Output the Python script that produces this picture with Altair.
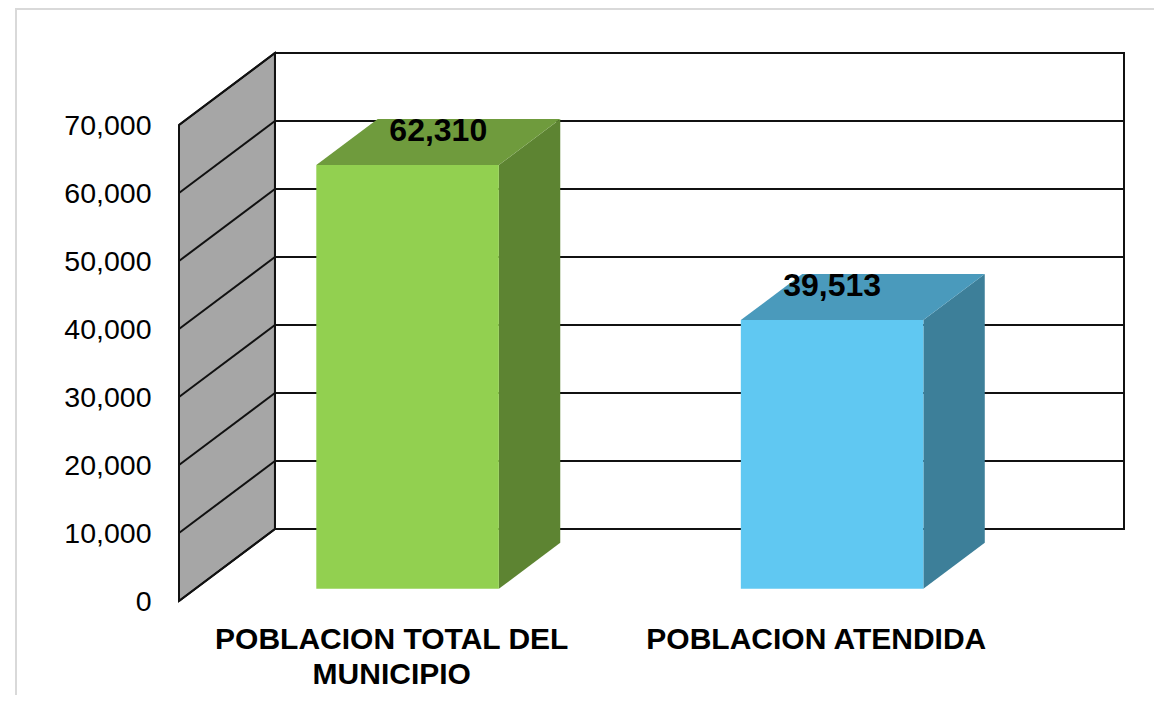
import altair as alt
import pandas as pd

# ---------------- data ----------------
CATEGORIES = ["POBLACION TOTAL DEL MUNICIPIO", "POBLACION ATENDIDA"]
CATEGORY_LINES = [["POBLACION TOTAL DEL", "MUNICIPIO"], ["POBLACION ATENDIDA"]]
VALUES = [62310, 39513]
Y_TICKS = [0, 10000, 20000, 30000, 40000, 50000, 60000, 70000]

# ---------------- style ----------------
FRONT_COLORS = ["#92D050", "#60C8F2"]
TOP_COLORS = ["#6F9B3D", "#4A9ABC"]
SIDE_COLORS = ["#5D8432", "#3D7F99"]
LABEL_DEPTH = [0.49, 0.17]   # where the value label sits along the bar depth
FONT = "Liberation Sans"
LINE = "#111111"

# 3-D geometry (in data units)
N = len(CATEGORIES)
Y_MAX = Y_TICKS[-1]
DEPTH_X = 0.226      # category units
DEPTH_Y = 10590      # value units
BAR_W = 0.43
D0, D1 = 0.17, 0.81  # bar front / back depth fractions

X_MAX = N + DEPTH_X
Y_TOP = Y_MAX + DEPTH_Y

xscale = alt.Scale(domain=[0, X_MAX], nice=False, zero=False)
yscale = alt.Scale(domain=[0, Y_TOP], nice=False, zero=False)

label_expr = " : ".join(
    [f"datum.value < {i + 1} ? {lines!r}" for i, lines in enumerate(CATEGORY_LINES[:-1])]
    + [repr(CATEGORY_LINES[-1])]
)
xaxis = alt.Axis(
    values=[i + 0.5 for i in range(N)], labelExpr=label_expr, title=None,
    ticks=False, domain=False, grid=False, labelFont=FONT, labelFontSize=30,
    labelFontWeight="bold", labelColor="#000000", labelPadding=23,
    labelLineHeight=35, labelBaseline="top", labelAlign="center", labelLimit=0,
)
yaxis = alt.Axis(
    values=Y_TICKS, labelExpr="format(datum.value, ',')", title=None, ticks=False,
    domain=False, grid=False, labelFont=FONT, labelFontSize=28.5, labelColor="#000000",
    labelPadding=28, labelBaseline="middle", labelLimit=0,
)


def X(f):
    return alt.X(f"{f}:Q", scale=xscale, axis=xaxis)


def Y(f):
    return alt.Y(f"{f}:Q", scale=yscale, axis=yaxis)


# back wall
back_df = pd.DataFrame({"x": [DEPTH_X], "x2": [N + DEPTH_X], "y": [DEPTH_Y], "y2": [Y_TOP]})
back = alt.Chart(back_df).mark_rect(fill="white", stroke=LINE, strokeWidth=2).encode(
    x=X("x"), x2="x2", y=Y("y"), y2="y2")

grid_df = pd.DataFrame({"x": [DEPTH_X] * len(Y_TICKS), "x2": [N + DEPTH_X] * len(Y_TICKS),
                        "y": [v + DEPTH_Y for v in Y_TICKS]})
grid = alt.Chart(grid_df).mark_rule(color=LINE, strokeWidth=2).encode(
    x=X("x"), x2="x2", y=Y("y"))

# side wall
side_df = pd.DataFrame({"x": [0, DEPTH_X], "y": [0, DEPTH_Y], "y2": [Y_MAX, Y_TOP]})
side = alt.Chart(side_df).mark_area(orient="vertical", fill="#A6A6A6", stroke=LINE,
                                    strokeWidth=2).encode(x=X("x"), y=Y("y"), y2="y2")

diag_df = pd.DataFrame({"x": [0] * len(Y_TICKS), "x2": [DEPTH_X] * len(Y_TICKS),
                        "y": Y_TICKS, "y2": [v + DEPTH_Y for v in Y_TICKS]})
diag = alt.Chart(diag_df).mark_rule(color=LINE, strokeWidth=2).encode(
    x=X("x"), x2="x2", y=Y("y"), y2="y2")

# bars
front_rows, side_rows, top_rows, label_rows = [], [], [], []
for i, (cat, v) in enumerate(zip(CATEGORIES, VALUES)):
    c = i + 0.5
    fl = c + D0 * DEPTH_X - BAR_W / 2
    fr = fl + BAR_W
    sx = (D1 - D0) * DEPTH_X
    front_rows.append({"cat": cat, "x": fl, "x2": fr, "y": D0 * DEPTH_Y,
                       "y2": v + D0 * DEPTH_Y, "color": FRONT_COLORS[i]})
    side_rows += [
        {"face": i, "x": fr, "y": D0 * DEPTH_Y, "y2": v + D0 * DEPTH_Y, "color": SIDE_COLORS[i]},
        {"face": i, "x": fr + sx, "y": D1 * DEPTH_Y, "y2": v + D1 * DEPTH_Y, "color": SIDE_COLORS[i]},
    ]
    top_rows += [
        {"face": i, "y": v + D0 * DEPTH_Y, "x": fl, "x2": fr, "color": TOP_COLORS[i]},
        {"face": i, "y": v + D1 * DEPTH_Y, "x": fl + sx, "x2": fr + sx, "color": TOP_COLORS[i]},
    ]
    label_rows.append({"x": c + LABEL_DEPTH[i] * DEPTH_X,
                       "y": v + (D0 + D1) / 2 * DEPTH_Y, "text": f"{v:,}"})

bar_side = alt.Chart(pd.DataFrame(side_rows)).mark_area(orient="vertical").encode(
    x=X("x"), y=Y("y"), y2="y2", fill=alt.Fill("color:N", scale=None), detail="face:N")
bar_top = alt.Chart(pd.DataFrame(top_rows)).mark_area(orient="horizontal").encode(
    y=Y("y"), x=X("x"), x2="x2", fill=alt.Fill("color:N", scale=None), detail="face:N")
bar_front = alt.Chart(pd.DataFrame(front_rows)).mark_rect().encode(
    x=X("x"), x2="x2", y=Y("y"), y2="y2", fill=alt.Fill("color:N", scale=None))

labels = alt.Chart(pd.DataFrame(label_rows)).mark_text(
    font=FONT, fontSize=32, fontWeight="bold", color="#000000", baseline="middle",
    align="center", dy=-11).encode(x=X("x"), y=Y("y"), text="text:N")

# light outer frame (top and left edges of the chart area)
one = pd.DataFrame({"k": [0]})
frame_top = alt.Chart(one).mark_rule(color="#D9D9D9", strokeWidth=2).encode(
    x=alt.value(-164), x2=alt.value(1000), y=alt.value(-44))
frame_left = alt.Chart(one).mark_rule(color="#D9D9D9", strokeWidth=2).encode(
    x=alt.value(-163), y=alt.value(-44), y2=alt.value(700))

chart = alt.layer(
    frame_top, frame_left, back, grid, side, diag, bar_side, bar_top, bar_front, labels
).properties(
    width=945, height=548,
    padding={"left": 171, "top": 45, "right": 30, "bottom": 94},
    autosize=alt.AutoSizeParams(type="none"),
    background="white",
).configure_view(stroke=None)

chart.save("out.html", embed_options={"renderer": "svg", "actions": False})
